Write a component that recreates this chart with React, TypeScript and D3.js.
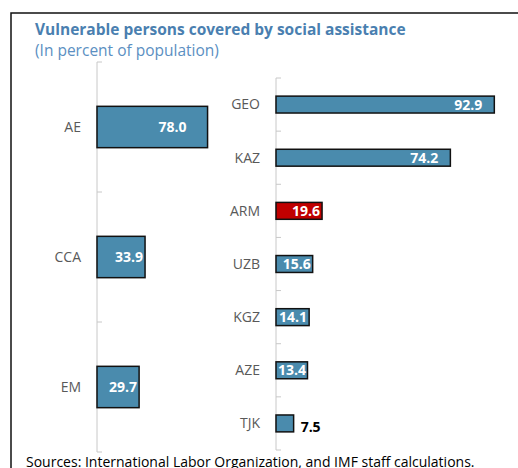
import { scaleBand, scaleLinear } from "d3";

const groupNames = ["AE", "CCA", "EM"];
const groupValues = [78.0, 33.9, 29.7];

const countryNames = ["GEO", "KAZ", "ARM", "UZB", "KGZ", "AZE", "TJK"];
const countryValues = [92.9, 74.2, 19.6, 15.6, 14.1, 13.4, 7.5];
const highlighted = ["ARM"];

const title = "Vulnerable persons covered by social assistance";
const subtitle = "(In percent of population)";
const source = "Sources: International Labor Organization, and IMF staff calculations.";

const W = 518;
const H = 468;
const FONT = "'Open Sans', 'Noto Sans', sans-serif";
const BLUE = "#4a8bad";
const RED = "#c00000";
const LABEL_W = 29;

type PanelProps = {
  names: string[];
  values: number[];
  x0: number;
  x1: number;
  xMax: number;
  yTop: number;
  yBottom: number;
  bigOffset: number;
};

function Panel({ names, values, x0, x1, xMax, yTop, yBottom, bigOffset }: PanelProps) {
  const x = scaleLinear().domain([0, xMax]).range([x0, x1]);
  const y = scaleBand<string>().domain(names).range([yTop, yBottom]);
  const bw = y.bandwidth();
  const barH = bw * 0.318;
  const ticks = [...names.map((n) => y(n) ?? 0), yBottom];

  return (
    <g>
      <line x1={x0} x2={x0} y1={yTop} y2={yBottom} stroke="#c8c8c8" strokeWidth={1} />
      {ticks.map((t, i) => (
        <line key={i} x1={x0} x2={x0 + 5} y1={t} y2={t} stroke="#c8c8c8" strokeWidth={1} />
      ))}
      {names.map((name, i) => {
        const v = values[i];
        const cy = (y(name) ?? 0) + bw / 2;
        const end = x(v);
        const barW = end - x(0);
        const fits = barW >= LABEL_W + 2;
        const off = barW > 100 ? bigOffset : 2;
        const labelRight = Math.max(end - off, x(0) + 1 + LABEL_W);
        return (
          <g key={name}>
            <text
              x={x0 - 16}
              y={cy}
              dy="0.35em"
              textAnchor="end"
              fontFamily={FONT}
              fontSize={14}
              fill="#595959"
            >
              {name}
            </text>
            <rect
              x={x(0)}
              y={cy - barH / 2}
              width={barW}
              height={barH}
              fill={highlighted.includes(name) ? RED : BLUE}
              stroke="#111"
              strokeWidth={1.5}
            />
            {fits ? (
              <text
                x={labelRight}
                y={cy}
                dy="0.36em"
                textAnchor="end"
                fontFamily={FONT}
                fontSize={14}
                fontWeight="bold"
                fill="#fff"
              >
                {v.toFixed(1)}
              </text>
            ) : (
              <text
                x={end + 7}
                y={cy + 4}
                dy="0.36em"
                textAnchor="start"
                fontFamily={FONT}
                fontSize={14}
                fontWeight="bold"
                fill="#000"
              >
                {v.toFixed(1)}
              </text>
            )}
          </g>
        );
      })}
    </g>
  );
}

export default function App() {
  return (
    <svg
      width={W}
      height={H}
      viewBox={`0 0 ${W} ${H}`}
      style={{ position: "absolute", left: 0, top: 0, background: "#fff" }}
    >
      <rect x={0} y={0} width={W} height={H} fill="#fff" />
      <rect x={11} y={13} width={W + 20} height={H + 20} fill="none" stroke="#111" strokeWidth={1.5} />
      <text x={35} y={35} fontFamily={FONT} fontSize={15.5} fontWeight="bold" fill="#4a7fb0">
        {title}
      </text>
      <text x={35} y={56} fontFamily={FONT} fontSize={15.5} fill="#5b8fc2">
        {subtitle}
      </text>
      <Panel
        names={groupNames}
        values={groupValues}
        x0={97}
        x1={210.4}
        xMax={80}
        yTop={62}
        yBottom={452}
        bigOffset={21}
      />
      <Panel
        names={countryNames}
        values={countryValues}
        x0={276}
        x1={511}
        xMax={100}
        yTop={78}
        yBottom={450}
        bigOffset={12}
      />
      <text x={26} y={467} fontFamily={FONT} fontSize={14} fill="#000">
        {source}
      </text>
    </svg>
  );
}
